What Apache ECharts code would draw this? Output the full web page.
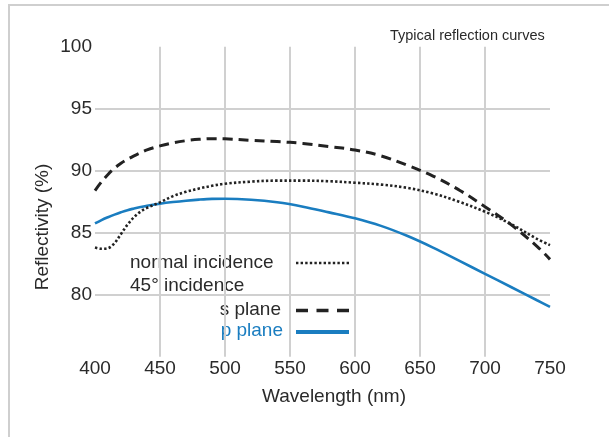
<!DOCTYPE html>
<html>
<head>
<meta charset="utf-8">
<script src="https://cdn.jsdelivr.net/npm/echarts@6/dist/echarts.min.js"></script>
<style>html,body{margin:0;padding:0;background:#fff;}#c{width:609px;height:437px;}</style>
</head>
<body>
<div id="c"></div>
<script>
var wavelengths = [400,405,410,415,420,425,430,435,440,450,460,470,480,490,500,520,540,560,580,600,620,640,660,680,700,720,740,750];
var sPlane =      [88.4,89.1,89.7,90.2,90.6,90.92,91.2,91.45,91.68,92.0,92.25,92.42,92.53,92.58,92.57,92.45,92.35,92.2,91.95,91.67,91.2,90.45,89.57,88.45,87.1,85.65,83.9,82.85];
var normalInc =   [83.8,83.7,83.75,84.15,84.9,85.65,86.25,86.7,87.0,87.45,87.95,88.3,88.56,88.78,88.95,89.12,89.2,89.2,89.15,89.03,88.88,88.62,88.17,87.5,86.69,85.7,84.5,84.0];
var pPlane =      [85.75,86.02,86.25,86.46,86.65,86.82,86.95,87.07,87.18,87.34,87.47,87.58,87.67,87.73,87.74,87.66,87.45,87.1,86.64,86.16,85.55,84.75,83.8,82.75,81.68,80.62,79.55,79.02];
var yTickLabels = ['80','85','90','95','100'];

function pairs(xs, ys){ return xs.map(function(x,i){ return [x, ys[i]]; }); }

var FONT = '"Liberation Sans", Arial, sans-serif';
var TXT = '#2a2a2a';
var BLUE = '#1a7dc0';

var chart = echarts.init(document.getElementById('c'), null, {renderer:'canvas'});
chart.setOption({
  animation: false,
  backgroundColor: '#fff',
  grid: {left: 95, right: 59, top: 46.7, bottom: 80.3, containLabel: false},
  xAxis: {
    type: 'value', min: 400, max: 750, interval: 50,
    axisLine: {show: false}, axisTick: {show: false},
    axisLabel: {margin: 3, fontSize: 19, color: TXT, fontFamily: FONT},
    splitLine: {show: true, showMinLine: false, showMaxLine: false, lineStyle: {color: '#d0d0d0', width: 2}}
  },
  yAxis: {
    type: 'value', min: 75, max: 100, interval: 5,
    axisLine: {show: false}, axisTick: {show: false},
    axisLabel: {margin: 3, fontSize: 19, color: TXT, fontFamily: FONT,
      formatter: function(v){ var s = String(v); return yTickLabels.indexOf(s) >= 0 ? s : ''; }},
    splitLine: {show: true, showMinLine: false, showMaxLine: false, lineStyle: {color: '#d0d0d0', width: 2}}
  },
  series: [
    {type: 'line', name: 'normal incidence', data: pairs(wavelengths, normalInc), smooth: 0.35, showSymbol: false,
     lineStyle: {color: '#222', width: 2.6, type: [2.4, 2.2]}, z: 3},
    {type: 'line', name: 's plane', data: pairs(wavelengths, sPlane), smooth: 0.35, showSymbol: false,
     lineStyle: {color: '#222', width: 3, type: [10, 6]}, z: 3},
    {type: 'line', name: 'p plane', data: pairs(wavelengths, pPlane), smooth: 0.35, showSymbol: false,
     lineStyle: {color: BLUE, width: 2.6}, z: 2}
  ],
  graphic: [
    {type: 'rect', shape: {x: 9, y: 5, width: 800, height: 600}, style: {fill: 'none', stroke: '#cfcfcf', lineWidth: 2}, silent: true},
    {type: 'text', x: 390, y: 36, style: {text: 'Typical reflection curves', font: '14.5px ' + FONT, fill: TXT, textVerticalAlign: 'middle', textAlign: 'left'}},
    {type: 'text', x: 334, y: 397, style: {text: 'Wavelength (nm)', font: '19px ' + FONT, fill: TXT, textAlign: 'center', textVerticalAlign: 'middle'}},
    {type: 'text', x: 43, y: 227, rotation: Math.PI/2, style: {text: 'Reflectivity (%)', font: '19px ' + FONT, fill: TXT, textAlign: 'center', textVerticalAlign: 'middle'}},
    {type: 'text', x: 130, y: 263, style: {text: 'normal incidence', font: '19px ' + FONT, fill: TXT, textAlign: 'left', textVerticalAlign: 'middle'}},
    {type: 'text', x: 130, y: 286, style: {text: '45° incidence', font: '19px ' + FONT, fill: TXT, textAlign: 'left', textVerticalAlign: 'middle'}},
    {type: 'text', x: 281, y: 310, style: {text: 's plane', font: '19px ' + FONT, fill: TXT, textAlign: 'right', textVerticalAlign: 'middle'}},
    {type: 'text', x: 283, y: 331, style: {text: 'p plane', font: '19px ' + FONT, fill: BLUE, textAlign: 'right', textVerticalAlign: 'middle'}},
    {type: 'line', shape: {x1: 296, y1: 263, x2: 349, y2: 263}, style: {stroke: '#222', lineWidth: 2.6, lineDash: [2.4, 2.2]}},
    {type: 'line', shape: {x1: 296, y1: 310.5, x2: 349, y2: 310.5}, style: {stroke: '#222', lineWidth: 3.5, lineDash: [12, 8.5]}},
    {type: 'line', shape: {x1: 296, y1: 332, x2: 349, y2: 332}, style: {stroke: BLUE, lineWidth: 4}}
  ]
});
</script>
</body>
</html>
